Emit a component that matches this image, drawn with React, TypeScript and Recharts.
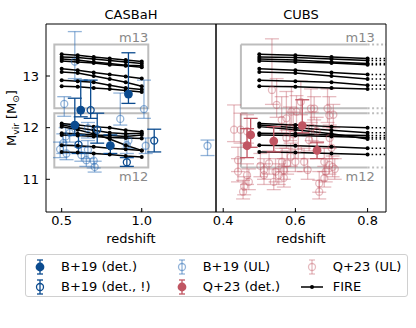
import React from 'react';
import { ComposedChart, Line, Scatter, XAxis, YAxis, ErrorBar, ReferenceArea, ReferenceLine } from 'recharts';

const FONT = '"DejaVu Sans", sans-serif';
const DARK_BLUE = '#0b4b8f';
const LIGHT_BLUE = 'rgba(40,105,180,0.5)';
const DARK_PINK = '#c05562';
const LIGHT_PINK = 'rgba(192,85,98,0.4)';
const BOX = '#bdbdbd';

// FIRE redshift grid per panel
const zCasbah = [0.5, 0.6, 0.7, 0.8, 0.9, 1.0];
const zCubs = [0.5, 0.6, 0.7, 0.8];
const zEdge = 0.851;

// FIRE halo mass tracks (log Mvir) at zCasbah
const fireM13 = [
  [13.42, 13.40, 13.37, 13.34, 13.31, 13.28],
  [13.37, 13.36, 13.33, 13.30, 13.27, 13.24],
  [13.33, 13.31, 13.27, 13.24, 13.21, 13.2],
  [13.29, 13.27, 13.25, 13.22, 13.2, 13.17],
  [13.14, 13.11, 13.07, 13.03, 12.99, 12.95],
  [13.08, 13.06, 13.0, 12.94, 12.88, 12.8],
  [12.92, 12.9, 12.88, 12.82, 12.77, 12.74],
  [12.8, 12.79, 12.77, 12.75, 12.72, 12.69],
];
const fireM12 = [
  [12.08, 12.05, 12.02, 12.0, 11.95, 11.92],
  [12.05, 12.0, 11.95, 11.9, 11.88, 11.89],
  [12.02, 11.96, 11.88, 11.78, 11.66, 11.56],
  [11.89, 11.88, 11.86, 11.85, 11.83, 11.86],
  [11.86, 11.85, 11.83, 11.81, 11.8, 11.79],
  [11.66, 11.65, 11.63, 11.6, 11.58, 11.56],
  [11.53, 11.52, 11.5, 11.48, 11.45, 11.43],
];

// halo boxes [x1, x2, y1, y2]
const boxM13 = [0.454, 1.041, 12.375, 13.61];
const boxM12 = [0.454, 1.041, 11.23, 12.28];
const boxCubsM13 = [0.449, 0.8, 12.375, 13.61];
const boxCubsM12 = [0.449, 0.8, 11.23, 12.28];

// [z, logM, lower, upper]
const b19Det = [
  [0.582, 12.05, 11.85, 12.57],
  [0.619, 12.34, 12.21, 12.92],
  [0.917, 12.65, 12.47, 13.45],
  [0.804, 11.65, 11.5, 11.86],
];
const b19DetWarn = [
  [0.681, 12.34, 12.18, 12.92],
  [0.605, 11.67, 11.5, 11.86],
  [0.722, 11.96, 11.7, 12.28],
  [0.907, 11.33, 11.25, 11.42],
  [1.078, 11.75, 11.53, 11.97],
];
const b19UL = [
  [0.516, 12.46, 12.22, 12.6],
  [0.582, 13.28, 12.95, 13.86],
  [0.866, 12.17, 12.05, 12.67],
  [1.014, 12.36, 12.18, 12.92],
  [1.411, 11.65, 11.46, 11.76],
  [0.49, 11.58, 11.42, 11.72],
  [0.51, 11.7, 11.5, 11.88],
  [0.53, 11.5, 11.38, 11.66],
  [0.525, 11.83, 11.66, 12.0],
  [0.55, 11.9, 11.72, 12.06],
  [0.623, 11.47, 11.35, 11.62],
  [0.654, 11.37, 11.25, 11.52],
  [0.664, 11.57, 11.4, 11.75],
  [0.664, 11.99, 11.8, 12.1],
  [0.706, 11.24, 11.14, 11.35],
  [0.7, 11.36, 11.22, 11.5],
  [0.907, 11.66, 11.5, 11.8],
  [0.917, 11.75, 11.6, 11.88],
  [1.025, 11.65, 11.5, 11.8],
];
const q23Det = [
  [0.476, 11.86, 11.62, 12.18],
  [0.466, 11.65, 11.42, 11.98],
  [0.54, 11.74, 11.53, 12.02],
  [0.619, 12.04, 11.9, 12.54],
  [0.66, 11.56, 11.4, 11.72],
];
const q23UL = [
  [0.43, 11.96, 11.73, 12.44],
  [0.448, 11.96, 11.7, 12.28],
  [0.441, 11.37, 11.15, 11.62],
  [0.441, 11.15, 10.95, 11.4],
  [0.466, 11.08, 10.9, 11.3],
  [0.471, 10.95, 10.8, 11.2],
  [0.458, 10.86, 10.7, 11.05],
  [0.455, 10.76, 10.62, 10.98],
  [0.513, 11.08, 10.9, 11.3],
  [0.513, 11.18, 11.0, 11.4],
  [0.527, 11.31, 11.1, 11.55],
  [0.54, 10.95, 10.8, 11.2],
  [0.545, 11.15, 10.95, 11.4],
  [0.554, 11.08, 10.9, 11.3],
  [0.568, 11.03, 10.85, 11.25],
  [0.568, 11.18, 11.0, 11.4],
  [0.563, 11.34, 11.15, 11.6],
  [0.577, 11.31, 11.1, 11.55],
  [0.587, 11.44, 11.25, 11.7],
  [0.6, 11.34, 11.15, 11.58],
  [0.535, 12.73, 12.45, 13.72],
  [0.548, 12.44, 12.2, 12.95],
  [0.562, 12.15, 11.9, 12.6],
  [0.575, 12.18, 11.95, 12.7],
  [0.589, 12.31, 12.05, 12.8],
  [0.603, 12.31, 12.05, 12.62],
  [0.585, 12.0, 11.75, 12.4],
  [0.594, 11.87, 11.65, 12.3],
  [0.615, 12.5, 12.25, 12.9],
  [0.643, 12.37, 12.1, 12.75],
  [0.652, 12.37, 12.15, 12.6],
  [0.689, 12.37, 12.1, 12.75],
  [0.694, 12.24, 12.0, 12.6],
  [0.705, 12.25, 12.0, 12.45],
  [0.638, 11.76, 11.55, 12.05],
  [0.624, 11.34, 11.15, 11.6],
  [0.634, 11.18, 11.0, 11.4],
  [0.666, 10.92, 10.75, 11.15],
  [0.68, 11.02, 10.85, 11.25],
  [0.684, 11.15, 10.95, 11.4],
  [0.694, 11.28, 11.1, 11.5],
  [0.703, 11.24, 11.05, 11.45],
  [0.666, 10.76, 10.62, 10.98],
  [0.68, 11.34, 11.15, 11.6],
  [0.7, 11.61, 11.4, 11.85],
  [0.695, 11.8, 11.6, 12.05],
  [0.659, 11.93, 11.7, 12.2],
  [0.645, 12.0, 11.75, 12.3],
  [0.608, 11.58, 11.4, 11.85],
  [0.575, 11.8, 11.6, 12.05],
  [0.503, 11.26, 11.05, 11.5],
  [0.466, 11.93, 11.7, 12.25],
  [0.709, 11.2, 11.0, 11.4],
];

const casbahTicks = [0.5, 1.0];
const cubsTicks = [0.4, 0.6, 0.8];
const massTicks = [11, 12, 13];

const X_CASBAH: [number, number] = [0.402, 1.464];
const X_CUBS: [number, number] = [0.38, 0.851];
const Y_DOM: [number, number] = [10.367, 14.007];

const toRows = (pts: number[][]) => pts.map(([x, y, lo, hi]) => ({ x, y, err: [y - lo, hi - y] }));
const track = (zs: number[], ms: number[]) => zs.map((x, i) => ({ x, y: ms[i] }));

const openDot = (color: string) => (p: any) => (
  <circle cx={p.cx} cy={p.cy} r={3.5} fill="none" stroke={color} strokeWidth={1.3} />
);
const fullDot = (color: string) => (p: any) => <circle cx={p.cx} cy={p.cy} r={4.4} fill={color} />;

const tickText = { fontSize: 13, fill: '#000', fontFamily: FONT };
const line = { stroke: '#000', strokeWidth: 1 };

const scatterGroup = (key: string, pts: number[][], color: string, filled: boolean) => (
  <Scatter key={key} data={toRows(pts)} dataKey="y" shape={filled ? fullDot(color) : openDot(color)} isAnimationActive={false}>
    <ErrorBar dataKey="err" direction="y" width={7} stroke={color} strokeWidth={1.3} />
  </Scatter>
);

const fireLines = (key: string, zs: number[]) =>
  [...fireM13, ...fireM12].map((ms, i) => (
    <Line
      key={`${key}-${i}`}
      data={track(zs, ms)}
      dataKey="y"
      stroke="#000"
      strokeWidth={1.5}
      dot={{ r: 2, fill: '#000', stroke: '#000', strokeWidth: 0 }}
      activeDot={false}
      isAnimationActive={false}
    />
  ));

const boxLabel = (text: string, above: boolean) => (props: any) => {
  const vb = props.viewBox;
  return (
    <text x={vb.x + vb.width} y={above ? vb.y - 2.5 : vb.y + vb.height + 14} textAnchor="end" fontSize={13} fill="#888" fontFamily={FONT}>
      {text}
    </text>
  );
};

const yLabel = (props: any) => {
  const vb = props.viewBox;
  const x = vb.x + vb.width - 30;
  const y = vb.y + vb.height / 2;
  return (
    <text x={x} y={y} transform={`rotate(-90, ${x}, ${y})`} textAnchor="middle" fontSize={13} fontFamily={FONT} fill="#000">
      M<tspan fontSize={9} dy={3}>vir</tspan>
      <tspan dy={-3}> [M</tspan>
      <tspan fontSize={9} dy={3}>⊙</tspan>
      <tspan dy={-3}>]</tspan>
    </text>
  );
};

const axes = (dom: [number, number], ticks: number[], title: string, showY: boolean) => [
  <XAxis key="xb" dataKey="x" type="number" domain={dom} allowDataOverflow ticks={ticks} height={1}
    tickSize={-4} tickMargin={8} axisLine={line} tickLine={line} tick={tickText}
    tickFormatter={(v: number) => v.toFixed(1)}
    label={{ value: 'redshift', position: 'bottom', offset: 21, fontSize: 13, fill: '#000', fontFamily: FONT }} />,
  <XAxis key="xt" xAxisId="top" orientation="top" type="number" domain={dom} allowDataOverflow ticks={ticks} height={1}
    tickSize={-4} axisLine={line} tickLine={line} tick={false}
    label={{ value: title, position: 'top', offset: 4, fontSize: 13, fill: '#000', fontFamily: FONT }} />,
  <YAxis key="yl" dataKey="y" type="number" domain={Y_DOM} allowDataOverflow ticks={massTicks} width={1}
    tickSize={-4} tickMargin={11} axisLine={line} tickLine={line} tick={showY ? tickText : false}
    label={showY ? yLabel : undefined} />,
  <YAxis key="yr" yAxisId="r" orientation="right" type="number" domain={Y_DOM} allowDataOverflow ticks={massTicks} width={1}
    tickSize={-4} axisLine={line} tickLine={line} tick={false} />,
];

const cubsBoxLines = (b: number[], key: string) => [
  <ReferenceLine key={`${key}-v`} segment={[{ x: b[0], y: b[2] }, { x: b[0], y: b[3] }]} stroke={BOX} strokeWidth={2} />,
  ...[b[2], b[3]].flatMap((y, i) => [
    <ReferenceLine key={`${key}-h${i}`} segment={[{ x: b[0], y }, { x: b[1], y }]} stroke={BOX} strokeWidth={2} />,
    <ReferenceLine key={`${key}-d${i}`} segment={[{ x: b[1], y }, { x: zEdge, y }]} stroke={BOX} strokeWidth={2} strokeDasharray="2 2.5" />,
  ]),
];

const LEGEND = [
  { label: 'B+19 (det.)', color: DARK_BLUE, kind: 'full', col: 0, row: 0 },
  { label: 'B+19 (det., !)', color: DARK_BLUE, kind: 'open', col: 0, row: 1 },
  { label: 'B+19 (UL)', color: LIGHT_BLUE, kind: 'open', col: 1, row: 0 },
  { label: 'Q+23 (det.)', color: DARK_PINK, kind: 'full', col: 1, row: 1 },
  { label: 'Q+23 (UL)', color: LIGHT_PINK, kind: 'open', col: 2, row: 0 },
  { label: 'FIRE', color: '#000', kind: 'line', col: 2, row: 1 },
];
const legendCols = [2, 143.7, 273.7];

const Marker = ({ kind, color }: { kind: string; color: string }) => (
  <svg width={24} height={18} style={{ position: 'absolute', left: 0, top: 0 }}>
    {kind === 'line' ? (
      <g>
        <line x1={1} y1={9} x2={23} y2={9} stroke="#000" strokeWidth={1.5} />
        <circle cx={12} cy={9} r={2} fill="#000" />
      </g>
    ) : (
      <g stroke={color} strokeWidth={1.3}>
        <line x1={12} y1={2} x2={12} y2={16} />
        <line x1={9} y1={2} x2={15} y2={2} />
        <line x1={9} y1={16} x2={15} y2={16} />
        {kind === 'full' ? <circle cx={12} cy={9} r={4.4} fill={color} stroke="none" /> : <circle cx={12} cy={9} r={3.5} fill="none" />}
      </g>
    )}
  </svg>
);

export default function App() {
  return (
    <div style={{ position: 'absolute', left: 0, top: 0, width: 416, height: 328, background: '#fff', fontFamily: FONT }}>
      <div style={{ position: 'absolute', left: 0, top: 0 }}>
        <ComposedChart width={416} height={328} margin={{ top: 23, bottom: 115, left: 45, right: 199 }}>
          {axes(X_CASBAH, casbahTicks, 'CASBaH', true)}
          <ReferenceArea x1={boxM13[0]} x2={boxM13[1]} y1={boxM13[2]} y2={boxM13[3]} fill="none" stroke={BOX} strokeWidth={2} label={boxLabel('m13', true)} />
          <ReferenceArea x1={boxM12[0]} x2={boxM12[1]} y1={boxM12[2]} y2={boxM12[3]} fill="none" stroke={BOX} strokeWidth={2} label={boxLabel('m12', false)} />
          {scatterGroup('bul', b19UL, LIGHT_BLUE, false)}
          {fireLines('c', zCasbah)}
          {scatterGroup('bw', b19DetWarn, DARK_BLUE, false)}
          {scatterGroup('bd', b19Det, DARK_BLUE, true)}
        </ComposedChart>
      </div>
      <div style={{ position: 'absolute', left: 0, top: 0 }}>
        <ComposedChart width={416} height={328} margin={{ top: 23, bottom: 115, left: 215, right: 29 }}>
          {axes(X_CUBS, cubsTicks, 'CUBS', false)}
          {cubsBoxLines(boxCubsM13, 'b13')}
          {cubsBoxLines(boxCubsM12, 'b12')}
          <ReferenceArea x1={boxCubsM13[0]} x2={0.82} y1={boxCubsM13[2]} y2={boxCubsM13[3]} fill="none" stroke="none" label={boxLabel('m13', true)} />
          <ReferenceArea x1={boxCubsM12[0]} x2={0.82} y1={boxCubsM12[2]} y2={boxCubsM12[3]} fill="none" stroke="none" label={boxLabel('m12', false)} />
          {scatterGroup('qul', q23UL, LIGHT_PINK, false)}
          {fireLines('u', zCubs)}
          {[...fireM13, ...fireM12].map((ms, i) => (
            <Line key={`ext-${i}`} data={[{ x: zCubs[3], y: ms[3] }, { x: zEdge, y: ms[3] }]} dataKey="y" stroke="#000"
              strokeWidth={1.5} strokeDasharray="1.5 2.5" dot={false} activeDot={false} isAnimationActive={false} />
          ))}
          {scatterGroup('qd', q23Det, DARK_PINK, true)}
        </ComposedChart>
      </div>
      <div style={{ position: 'absolute', left: 25, top: 254, width: 381, height: 41, border: '1px solid #d0d0d0', borderRadius: 3 }}>
        {LEGEND.map((it) => (
          <div key={it.label} style={{ position: 'absolute', left: legendCols[it.col], top: 3 + it.row * 20, height: 18, width: 130 }}>
            <Marker kind={it.kind} color={it.color} />
            <span style={{ position: 'absolute', left: 33, top: 0, fontSize: 13, lineHeight: '18px', whiteSpace: 'nowrap', color: '#000' }}>{it.label}</span>
          </div>
        ))}
      </div>
    </div>
  );
}
